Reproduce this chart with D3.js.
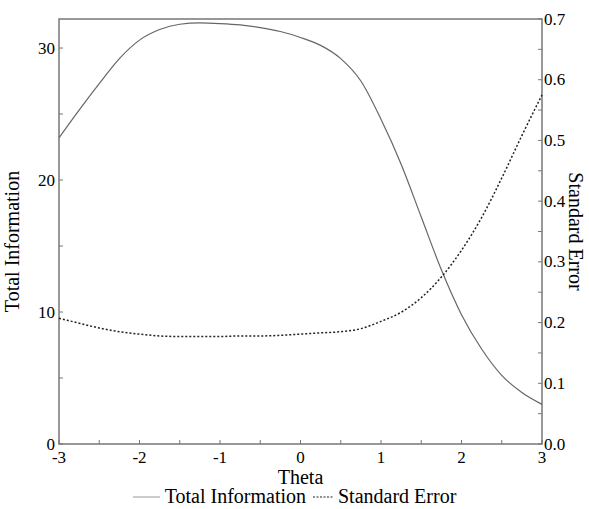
<!DOCTYPE html>
<head>
  <title>Test Information and Standard Error</title>
  <style>
    body { margin: 0; background: #fff; }
  </style>
</head>

<body>

  <script src="https://cdn.jsdelivr.net/npm/d3@7"></script>

  <script>
    // data
    var theta = [-3, -2.75, -2.5, -2.25, -2, -1.75, -1.5, -1.25, -1, -0.75, -0.5, -0.25,
                 0, 0.25, 0.5, 0.75, 1, 1.25, 1.5, 1.75, 2, 2.25, 2.5, 2.75, 3];
    var totalInfo = [23.2, 25.3, 27.3, 29.2, 30.6, 31.4, 31.8, 31.9, 31.85, 31.75, 31.55, 31.25,
                     30.8, 30.2, 29.2, 27.5, 24.6, 21.2, 17.2, 13.2, 9.8, 7.2, 5.2, 3.9, 3.0];
    var stdError = [0.207, 0.199, 0.191, 0.185, 0.181, 0.178, 0.177, 0.177, 0.177, 0.178, 0.178, 0.179,
                    0.181, 0.183, 0.185, 0.190, 0.202, 0.217, 0.241, 0.275, 0.319, 0.373, 0.438, 0.508, 0.575];
    var xTicks = [-3, -2, -1, 0, 1, 2, 3];
    var leftTicks = [0, 10, 20, 30];
    var rightTicks = [0, 0.1, 0.2, 0.3, 0.4, 0.5, 0.6, 0.7];

    // dimensions and margins
    var margin = {top: 19, right: 47, bottom: 65, left: 59},
        width = 589 - margin.left - margin.right,
        height = 509 - margin.top - margin.bottom;

    var x = d3.scaleLinear().domain([-3, 3]).range([0, width]);
    var yL = d3.scaleLinear().domain([0, 32.2]).range([height, 0]);
    var yR = d3.scaleLinear().domain([0, 0.7]).range([height, 0]);

    var svg = d3.select("body").append("svg")
                .attr("width", 589)
                .attr("height", 509)
                .attr("font-family", "'Liberation Serif', 'Times New Roman', serif")
                .append("g")
                .attr("transform", "translate(" + margin.left + "," + margin.top + ")");

    var axisColor = "#777";
    var tickFont = "17px";
    var titleFont = "20px";

    // frame
    svg.append("rect")
       .attr("x", 0).attr("y", 0)
       .attr("width", width).attr("height", height)
       .attr("fill", "none")
       .attr("stroke", axisColor)
       .attr("stroke-width", 1.5);

    // minor ticks (inside)
    var minorX = d3.range(-3, 3.01, 0.5);
    svg.selectAll(".mx").data(minorX).enter().append("line")
       .attr("x1", function(d) { return x(d); }).attr("x2", function(d) { return x(d); })
       .attr("y1", height).attr("y2", height - 4)
       .attr("stroke", axisColor);
    var minorL = d3.range(0, 31, 5);
    svg.selectAll(".ml").data(minorL).enter().append("line")
       .attr("x1", 0).attr("x2", 4)
       .attr("y1", function(d) { return yL(d); }).attr("y2", function(d) { return yL(d); })
       .attr("stroke", axisColor);
    var minorR = d3.range(0, 0.701, 0.05);
    svg.selectAll(".mr").data(minorR).enter().append("line")
       .attr("x1", width).attr("x2", width - 4)
       .attr("y1", function(d) { return yR(d); }).attr("y2", function(d) { return yR(d); })
       .attr("stroke", axisColor);

    // tick labels
    svg.selectAll(".xl").data(xTicks).enter().append("text")
       .attr("x", function(d) { return x(d); })
       .attr("y", height + 19)
       .style("text-anchor", "middle")
       .style("font-size", tickFont)
       .text(function(d) { return d; });

    svg.selectAll(".ll").data(leftTicks).enter().append("text")
       .attr("x", -4)
       .attr("y", function(d) { return yL(d); })
       .attr("dy", "0.33em")
       .style("text-anchor", "end")
       .style("font-size", tickFont)
       .text(function(d) { return d; });

    svg.selectAll(".rl").data(rightTicks).enter().append("text")
       .attr("x", width + 2)
       .attr("y", function(d) { return yR(d); })
       .attr("dy", "0.33em")
       .style("text-anchor", "start")
       .style("font-size", tickFont)
       .text(function(d) { return d.toFixed(1); });

    // lines
    var infoLine = d3.line()
        .curve(d3.curveMonotoneX)
        .x(function(d, i) { return x(theta[i]); })
        .y(function(d) { return yL(d); });
    var seLine = d3.line()
        .curve(d3.curveMonotoneX)
        .x(function(d, i) { return x(theta[i]); })
        .y(function(d) { return yR(d); });

    svg.append("path")
       .datum(totalInfo)
       .attr("d", infoLine)
       .attr("fill", "none")
       .attr("stroke", "#666")
       .attr("stroke-width", 1.2);

    svg.append("path")
       .datum(stdError)
       .attr("d", seLine)
       .attr("fill", "none")
       .attr("stroke", "#222")
       .attr("stroke-width", 1.5)
       .attr("stroke-dasharray", "2,2");

    // axis titles
    svg.append("text")
       .attr("transform", "translate(-40," + (height / 2 + 10) + ") rotate(-90)")
       .style("text-anchor", "middle")
       .style("font-size", titleFont)
       .text("Total Information");

    svg.append("text")
       .attr("transform", "translate(" + (width + 27) + "," + (height / 2) + ") rotate(90)")
       .style("text-anchor", "middle")
       .style("font-size", titleFont)
       .text("Standard Error");

    svg.append("text")
       .attr("x", width / 2)
       .attr("y", height + 40)
       .style("text-anchor", "middle")
       .style("font-size", titleFont)
       .text("Theta");

    // legend
    var leg = svg.append("g").attr("transform", "translate(0," + (height + 53) + ")");
    leg.append("line")
       .attr("x1", 74).attr("x2", 101).attr("y1", 0).attr("y2", 0)
       .attr("stroke", "#999").attr("stroke-width", 1);
    leg.append("text")
       .attr("x", 247).attr("y", 6)
       .style("text-anchor", "end")
       .style("font-size", titleFont)
       .text("Total Information");
    leg.append("line")
       .attr("x1", 254).attr("x2", 275).attr("y1", 0).attr("y2", 0)
       .attr("stroke", "#222").attr("stroke-width", 1.2)
       .attr("stroke-dasharray", "2,1.5");
    leg.append("text")
       .attr("x", 279).attr("y", 6)
       .style("font-size", titleFont)
       .text("Standard Error");
  </script>

</body>
